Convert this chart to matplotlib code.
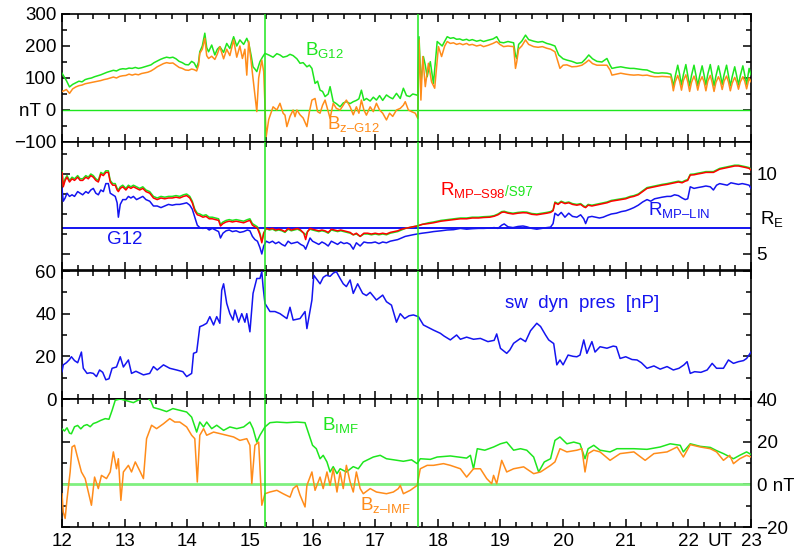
import matplotlib
matplotlib.use('Agg')
import matplotlib.pyplot as plt
from matplotlib.ticker import MultipleLocator

plt.rcParams['font.family'] = ['Liberation Sans', 'DejaVu Sans']
plt.rcParams['mathtext.fontset'] = 'custom'
plt.rcParams['mathtext.rm'] = 'Liberation Sans'
plt.rcParams['mathtext.default'] = 'regular'

GREEN = '#1ee61e'
ORANGE = '#ff8c1a'
BLUE = '#1414f0'
RED = '#ff0000'
FS = 13.5

# event times (UT hours) marked by vertical lines
event_times = [15.24, 17.68]
r_g12 = 6.63  # G12 magnetopause reference (R_E)

# panel 1: |B| and Bz at G12 (nT), (UT, value)
b_g12 = [
    (12.00, 115), (12.03, 105), (12.07, 92), (12.12, 72), (12.17, 80), (12.22, 85), (12.27, 90),
    (12.32, 88), (12.37, 95), (12.42, 98), (12.47, 100), (12.52, 104), (12.57, 107), (12.62, 110),
    (12.67, 114), (12.72, 118), (12.77, 121), (12.82, 124), (12.87, 122), (12.92, 127), (12.97, 129),
    (13.02, 128), (13.07, 131), (13.12, 130), (13.17, 133), (13.22, 130), (13.27, 132), (13.32, 135),
    (13.37, 138), (13.42, 141), (13.47, 148), (13.52, 153), (13.57, 158), (13.62, 162), (13.67, 165),
    (13.72, 163), (13.77, 165), (13.82, 160), (13.87, 152), (13.92, 148), (13.97, 142), (14.02, 141),
    (14.07, 152), (14.11, 147), (14.15, 132), (14.18, 150), (14.20, 182), (14.24, 200), (14.28, 240),
    (14.31, 195), (14.34, 182), (14.39, 203), (14.44, 172), (14.48, 190), (14.52, 198), (14.58, 180),
    (14.63, 208), (14.68, 192), (14.74, 229), (14.79, 200), (14.84, 219), (14.90, 205), (14.95, 224),
    (14.98, 210), (15.02, 170), (15.05, 135), (15.08, 128), (15.11, 120), (15.16, 151), (15.20, 165),
    (15.24, 177), (15.30, 172), (15.37, 165), (15.43, 176), (15.48, 172), (15.53, 165), (15.59, 168),
    (15.64, 174), (15.69, 170), (15.75, 160), (15.80, 146), (15.85, 148), (15.91, 135), (15.95, 140),
    (15.99, 130), (16.04, 83), (16.08, 90), (16.12, 62), (16.16, 58), (16.20, 42), (16.25, 50),
    (16.28, 73), (16.33, 26), (16.38, 20), (16.44, 10), (16.49, 22), (16.54, 26), (16.60, 20),
    (16.65, 26), (16.70, 30), (16.74, 35), (16.78, 62), (16.82, 30), (16.86, 36), (16.92, 28),
    (16.97, 40), (17.02, 31), (17.07, 45), (17.12, 30), (17.18, 47), (17.23, 40), (17.28, 35),
    (17.34, 52), (17.40, 36), (17.45, 68), (17.50, 45), (17.55, 42), (17.60, 50), (17.66, 47),
    (17.68, 45), (17.70, 229), (17.73, 83), (17.77, 167), (17.80, 140), (17.83, 104), (17.88, 151),
    (17.93, 83), (17.96, 150), (17.99, 214), (18.04, 205), (18.07, 200), (18.11, 215), (18.15, 229),
    (18.20, 224), (18.25, 226), (18.30, 221), (18.35, 222), (18.40, 218), (18.46, 221), (18.50, 217),
    (18.55, 220), (18.62, 215), (18.68, 218), (18.73, 214), (18.80, 218), (18.88, 222), (18.94, 229),
    (18.99, 212), (19.05, 210), (19.12, 214), (19.21, 210), (19.24, 170), (19.26, 161), (19.29, 205),
    (19.34, 215), (19.40, 234), (19.45, 220), (19.53, 215), (19.60, 212), (19.67, 214), (19.74, 208),
    (19.80, 205), (19.87, 200), (19.93, 172), (20.00, 160), (20.06, 156), (20.14, 152), (20.22, 146),
    (20.30, 148), (20.36, 160), (20.41, 172), (20.47, 160), (20.54, 152), (20.62, 150), (20.70, 161),
    (20.75, 140), (20.78, 130), (20.85, 133), (20.92, 135), (21.00, 132), (21.07, 130), (21.13, 130),
    (21.20, 128), (21.27, 126), (21.34, 125), (21.40, 120), (21.46, 116), (21.52, 115), (21.58, 116),
    (21.66, 115), (21.72, 112), (21.74, 95), (21.76, 73), (21.79, 105), (21.83, 140), (21.86, 112),
    (21.89, 78), (21.92, 110), (21.96, 142), (21.99, 108), (22.02, 75), (22.05, 108), (22.09, 140),
    (22.12, 110), (22.15, 76), (22.18, 106), (22.22, 138), (22.25, 110), (22.28, 78), (22.31, 112),
    (22.35, 142), (22.38, 108), (22.41, 75), (22.44, 106), (22.48, 138), (22.51, 112), (22.54, 80),
    (22.57, 110), (22.61, 140), (22.64, 108), (22.67, 75), (22.70, 104), (22.74, 135), (22.77, 108),
    (22.80, 78), (22.83, 108), (22.87, 138), (22.90, 110), (22.93, 80), (22.97, 130), (23.00, 110),
]
bz_g12 = [
    (12.00, 58), (12.03, 60), (12.07, 64), (12.12, 52), (12.17, 66), (12.22, 72), (12.27, 76),
    (12.32, 78), (12.37, 82), (12.42, 84), (12.47, 86), (12.52, 88), (12.57, 90), (12.62, 92),
    (12.67, 95), (12.72, 97), (12.77, 100), (12.82, 103), (12.87, 100), (12.92, 105), (12.97, 107),
    (13.02, 108), (13.07, 112), (13.12, 109), (13.17, 112), (13.22, 110), (13.27, 114), (13.32, 116),
    (13.37, 118), (13.42, 122), (13.47, 128), (13.52, 135), (13.57, 140), (13.62, 145), (13.67, 148),
    (13.72, 146), (13.77, 147), (13.82, 140), (13.87, 133), (13.92, 130), (13.97, 125), (14.02, 124),
    (14.07, 128), (14.11, 126), (14.15, 122), (14.18, 140), (14.20, 177), (14.24, 190), (14.28, 224),
    (14.31, 170), (14.34, 161), (14.39, 168), (14.44, 158), (14.48, 175), (14.52, 198), (14.58, 160),
    (14.63, 190), (14.68, 170), (14.74, 219), (14.79, 165), (14.84, 200), (14.88, 161), (14.92, 190),
    (14.95, 109), (14.98, 215), (15.02, 150), (15.06, 80), (15.11, -5), (15.14, 100), (15.19, 156),
    (15.22, 120), (15.26, -83), (15.30, -30), (15.37, 10), (15.43, 0), (15.48, 21), (15.53, -10),
    (15.56, -16), (15.59, -52), (15.64, -20), (15.69, 0), (15.72, -21), (15.75, 0), (15.80, -15),
    (15.85, -25), (15.91, -52), (15.95, -5), (15.99, 31), (16.04, 36), (16.08, -5), (16.12, -10),
    (16.16, 15), (16.20, 31), (16.25, -5), (16.28, -26), (16.33, 21), (16.38, 5), (16.44, 0),
    (16.49, 15), (16.54, 31), (16.60, 10), (16.65, -15), (16.70, 10), (16.74, -10), (16.78, 31),
    (16.82, 0), (16.86, -16), (16.92, 10), (16.97, -5), (17.02, 21), (17.07, 0), (17.12, -10),
    (17.18, -31), (17.23, -10), (17.28, -20), (17.34, 0), (17.40, 5), (17.45, 15), (17.48, 26),
    (17.53, 0), (17.58, -5), (17.64, -10), (17.68, -26), (17.70, 219), (17.73, 31), (17.76, 167),
    (17.80, 73), (17.85, 146), (17.90, 88), (17.95, 68), (18.01, 198), (18.06, 167), (18.11, 200),
    (18.15, 214), (18.20, 208), (18.25, 210), (18.30, 205), (18.35, 208), (18.40, 204), (18.46, 208),
    (18.50, 203), (18.55, 205), (18.62, 200), (18.68, 203), (18.73, 198), (18.80, 202), (18.88, 208),
    (18.94, 214), (18.99, 205), (19.05, 198), (19.12, 200), (19.21, 198), (19.24, 130), (19.26, 150),
    (19.29, 190), (19.34, 200), (19.40, 219), (19.45, 205), (19.53, 198), (19.60, 196), (19.67, 198),
    (19.74, 193), (19.80, 190), (19.87, 182), (19.95, 130), (20.00, 140), (20.06, 141), (20.14, 135),
    (20.22, 136), (20.30, 140), (20.36, 148), (20.41, 156), (20.47, 145), (20.54, 140), (20.62, 140),
    (20.70, 140), (20.75, 125), (20.78, 109), (20.85, 112), (20.92, 115), (21.00, 112), (21.07, 110),
    (21.13, 109), (21.20, 110), (21.27, 108), (21.34, 109), (21.40, 106), (21.46, 104), (21.52, 104),
    (21.58, 105), (21.66, 104), (21.72, 103), (21.74, 85), (21.76, 60), (21.79, 88), (21.83, 108),
    (21.86, 90), (21.89, 62), (21.92, 92), (21.96, 110), (21.99, 88), (22.02, 58), (22.05, 86),
    (22.09, 106), (22.12, 90), (22.15, 62), (22.18, 88), (22.22, 104), (22.25, 88), (22.28, 60),
    (22.31, 90), (22.35, 108), (22.38, 86), (22.41, 58), (22.44, 86), (22.48, 104), (22.51, 90),
    (22.54, 64), (22.57, 90), (22.61, 106), (22.64, 88), (22.67, 60), (22.70, 84), (22.74, 102),
    (22.77, 88), (22.80, 65), (22.83, 88), (22.87, 104), (22.90, 90), (22.93, 66), (22.97, 100),
    (23.00, 88),
]

# panel 2: magnetopause standoff (R_E): (UT, S98, S97, LIN)
r_mp = [
    (12.00, 10.1, 10.2, 9.1), (12.02, 9.2, 9.3, 8.3), (12.05, 9.6, 9.7, 8.5), (12.08, 9.8, 9.9, 8.8),
    (12.12, 9.5, 9.6, 8.6), (12.16, 9.7, 9.8, 8.7), (12.20, 9.6, 9.7, 8.6), (12.25, 9.8, 9.9, 8.9),
    (12.29, 9.6, 9.7, 8.8), (12.33, 9.6, 9.7, 8.7), (12.38, 9.8, 9.9, 8.9), (12.42, 9.7, 9.8, 8.8),
    (12.46, 9.9, 10.0, 9.0), (12.50, 9.8, 9.9, 9.1), (12.54, 9.6, 9.7, 8.8), (12.58, 9.5, 9.6, 8.7),
    (12.62, 10.0, 10.1, 9.0), (12.66, 9.9, 10.0, 8.9), (12.70, 10.1, 10.2, 9.4), (12.74, 10.1, 10.2, 9.4),
    (12.77, 9.5, 9.6, 8.8), (12.81, 9.3, 9.4, 8.7), (12.85, 9.3, 9.4, 8.6), (12.88, 9.0, 9.1, 8.2),
    (12.90, 8.9, 9.0, 7.3), (12.93, 9.1, 9.2, 8.1), (12.97, 9.2, 9.3, 8.4), (13.02, 9.0, 9.1, 8.4),
    (13.06, 9.2, 9.3, 8.6), (13.10, 9.1, 9.2, 8.5), (13.14, 9.2, 9.3, 8.6), (13.19, 9.1, 9.2, 8.4),
    (13.24, 9.0, 9.1, 8.5), (13.29, 9.1, 9.2, 8.6), (13.34, 8.9, 9.0, 8.4), (13.40, 8.8, 8.9, 8.3),
    (13.46, 8.5, 8.6, 8.0), (13.52, 8.4, 8.5, 8.0), (13.58, 8.5, 8.6, 7.9), (13.64, 8.45, 8.55, 8.0),
    (13.70, 8.5, 8.6, 8.1), (13.76, 8.5, 8.6, 8.05), (13.82, 8.55, 8.65, 8.1), (13.88, 8.5, 8.6, 8.1),
    (13.94, 8.6, 8.7, 8.15), (13.99, 8.65, 8.75, 8.2), (14.04, 8.5, 8.6, 8.05), (14.08, 8.2, 8.3, 7.8),
    (14.12, 7.7, 7.8, 7.3), (14.16, 7.45, 7.55, 6.8), (14.20, 7.4, 7.5, 6.65), (14.25, 7.3, 7.4, 6.6),
    (14.30, 7.35, 7.45, 6.65), (14.35, 7.2, 7.3, 6.5), (14.40, 7.2, 7.3, 6.6), (14.45, 7.15, 7.25, 6.5),
    (14.50, 7.1, 7.2, 6.4), (14.53, 6.75, 6.85, 6.0), (14.57, 6.9, 7.0, 6.3), (14.62, 7.0, 7.1, 6.45),
    (14.67, 7.05, 7.15, 6.5), (14.72, 7.0, 7.1, 6.4), (14.78, 7.05, 7.15, 6.45), (14.84, 7.0, 7.1, 6.35),
    (14.90, 6.95, 7.05, 6.4), (14.96, 7.05, 7.15, 6.5), (15.00, 7.1, 7.2, 6.45), (15.04, 6.8, 6.9, 6.1),
    (15.08, 6.7, 6.8, 5.9), (15.12, 6.6, 6.7, 5.8), (15.16, 6.2, 6.3, 5.4), (15.19, 5.7, 5.8, 5.0),
    (15.22, 6.3, 6.3, 5.5), (15.26, 6.6, 6.6, 5.8), (15.31, 6.55, 6.5, 5.7), (15.36, 6.6, 6.55, 5.8),
    (15.41, 6.5, 6.45, 5.65), (15.46, 6.55, 6.5, 5.75), (15.51, 6.5, 6.45, 5.6), (15.56, 6.4, 6.35, 5.5),
    (15.61, 6.6, 6.55, 5.8), (15.66, 6.5, 6.45, 5.65), (15.71, 6.55, 6.5, 5.7), (15.76, 6.6, 6.55, 5.75),
    (15.81, 6.5, 6.45, 5.6), (15.86, 6.3, 6.3, 5.5), (15.89, 5.9, 6.2, 5.3), (15.92, 6.4, 6.4, 5.6),
    (15.96, 6.6, 6.55, 6.0), (16.00, 6.55, 6.5, 5.8), (16.05, 6.5, 6.45, 5.7), (16.10, 6.45, 6.4, 5.6),
    (16.15, 6.5, 6.45, 5.75), (16.20, 6.45, 6.4, 5.65), (16.25, 6.35, 6.3, 5.5), (16.30, 6.55, 6.5, 5.8),
    (16.35, 6.5, 6.45, 5.7), (16.40, 6.45, 6.4, 5.6), (16.45, 6.5, 6.45, 5.75), (16.50, 6.45, 6.4, 5.65),
    (16.55, 6.4, 6.35, 5.7), (16.60, 6.35, 6.3, 5.6), (16.65, 6.2, 6.2, 5.3), (16.70, 6.3, 6.25, 5.7),
    (16.76, 6.1, 6.1, 5.5), (16.82, 6.3, 6.25, 5.75), (16.88, 6.3, 6.25, 5.7), (16.94, 6.25, 6.2, 5.7),
    (17.00, 6.3, 6.25, 5.75), (17.06, 6.25, 6.2, 5.65), (17.12, 6.3, 6.25, 5.75), (17.18, 6.25, 6.2, 5.7),
    (17.24, 6.35, 6.3, 5.8), (17.30, 6.4, 6.35, 5.85), (17.36, 6.45, 6.4, 5.9), (17.42, 6.55, 6.5, 6.0),
    (17.48, 6.6, 6.6, 6.1), (17.54, 6.65, 6.65, 6.15), (17.60, 6.7, 6.7, 6.2), (17.67, 6.75, 6.75, 6.25),
    (17.75, 6.85, 6.85, 6.3), (17.85, 6.9, 6.95, 6.35), (17.93, 6.95, 7.0, 6.4), (18.05, 7.05, 7.1, 6.45),
    (18.15, 7.1, 7.15, 6.5), (18.25, 7.15, 7.2, 6.52), (18.36, 7.2, 7.25, 6.6), (18.46, 7.2, 7.25, 6.55),
    (18.55, 7.25, 7.3, 6.58), (18.65, 7.25, 7.3, 6.6), (18.73, 7.28, 7.33, 6.6), (18.83, 7.3, 7.35, 6.62),
    (18.90, 7.36, 7.4, 6.65), (18.96, 7.45, 7.5, 6.6), (19.02, 7.6, 7.65, 6.8), (19.06, 7.62, 7.67, 6.88),
    (19.12, 7.55, 7.6, 6.7), (19.20, 7.5, 7.55, 6.65), (19.28, 7.55, 7.6, 6.72), (19.36, 7.58, 7.63, 6.75),
    (19.42, 7.57, 7.62, 6.7), (19.50, 7.48, 7.53, 6.6), (19.58, 7.45, 7.5, 6.55), (19.66, 7.5, 7.55, 6.6),
    (19.74, 7.55, 7.6, 6.65), (19.80, 7.6, 7.65, 6.68), (19.84, 7.7, 7.75, 6.9), (19.87, 8.2, 8.25, 7.55),
    (19.92, 8.1, 8.15, 7.4), (19.97, 8.25, 8.3, 7.6), (20.03, 8.15, 8.2, 7.3), (20.09, 8.2, 8.25, 7.55),
    (20.15, 8.1, 8.15, 7.35), (20.22, 8.05, 8.1, 7.3), (20.28, 8.1, 8.15, 7.45), (20.33, 7.95, 8.0, 7.2),
    (20.36, 7.9, 7.95, 6.9), (20.40, 8.05, 8.1, 7.3), (20.46, 8.0, 8.05, 7.35), (20.52, 8.05, 8.1, 7.3),
    (20.58, 8.1, 8.15, 7.25), (20.64, 8.15, 8.2, 7.3), (20.70, 8.2, 8.25, 7.4), (20.77, 8.3, 8.35, 7.5),
    (20.85, 8.35, 8.4, 7.55), (20.93, 8.4, 8.45, 7.65), (21.00, 8.45, 8.5, 7.7), (21.07, 8.55, 8.6, 7.8),
    (21.13, 8.6, 8.65, 7.9), (21.20, 8.7, 8.75, 8.05), (21.27, 8.9, 8.95, 8.25), (21.34, 9.1, 9.15, 8.4),
    (21.40, 9.15, 9.2, 8.3), (21.46, 9.2, 9.25, 8.45), (21.52, 9.25, 9.3, 8.5), (21.58, 9.3, 9.35, 8.55),
    (21.66, 9.35, 9.4, 8.6), (21.72, 9.4, 9.45, 8.6), (21.78, 9.45, 9.5, 8.7), (21.84, 9.5, 9.55, 8.65),
    (21.90, 9.45, 9.5, 8.5), (21.95, 9.55, 9.6, 8.4), (21.99, 9.6, 9.65, 8.45), (22.03, 9.93, 9.98, 9.2),
    (22.09, 9.95, 10.0, 9.1), (22.15, 10.0, 10.05, 9.15), (22.22, 10.05, 10.1, 9.2), (22.28, 10.1, 10.15, 9.25),
    (22.35, 10.1, 10.15, 9.2), (22.40, 10.1, 10.15, 9.0), (22.45, 10.2, 10.25, 9.3), (22.50, 10.3, 10.35, 9.4),
    (22.56, 10.35, 10.4, 9.35), (22.62, 10.4, 10.45, 9.3), (22.68, 10.45, 10.5, 9.45), (22.74, 10.5, 10.55, 9.4),
    (22.80, 10.5, 10.55, 9.35), (22.86, 10.45, 10.5, 9.4), (22.92, 10.4, 10.45, 9.35), (22.97, 10.35, 10.4, 9.3),
    (23.00, 10.25, 10.3, 9.1),
]

# panel 3: solar wind dynamic pressure (nP)
p_dyn = [
    (12.00, 12.8), (12.02, 16), (12.07, 17), (12.12, 18.5), (12.15, 19.8), (12.20, 18), (12.25, 17),
    (12.31, 22), (12.34, 14.4), (12.40, 12), (12.45, 12.3), (12.50, 12), (12.55, 10.5), (12.60, 13.6),
    (12.65, 12.5), (12.70, 9), (12.75, 9.5), (12.80, 14.4), (12.87, 15), (12.93, 19.8), (12.98, 15),
    (13.06, 18.3), (13.11, 12), (13.18, 13), (13.25, 12), (13.30, 11.3), (13.40, 12), (13.46, 15.2),
    (13.52, 13.6), (13.62, 16), (13.72, 14.4), (13.83, 13.6), (13.93, 12.8), (13.99, 10.5), (14.07, 12),
    (14.10, 21.4), (14.15, 22), (14.20, 33.9), (14.25, 34.5), (14.31, 35.5), (14.36, 38.6), (14.42, 34.7),
    (14.47, 38.6), (14.52, 35.5), (14.55, 51), (14.58, 54), (14.63, 44.8), (14.68, 40), (14.73, 37),
    (14.76, 41.7), (14.82, 36), (14.87, 40), (14.92, 36), (14.95, 40), (15.00, 31.5), (15.05, 49.5),
    (15.11, 56.5), (15.16, 56.5), (15.19, 59.7), (15.21, 52.7), (15.24, 44.8), (15.32, 41), (15.40, 41),
    (15.48, 40), (15.59, 37.7), (15.64, 43), (15.69, 37), (15.80, 37.7), (15.88, 41), (15.91, 33),
    (15.99, 46.4), (16.02, 58), (16.07, 56), (16.12, 54), (16.17, 57), (16.22, 58), (16.28, 57.5),
    (16.33, 59), (16.38, 59.7), (16.44, 56.5), (16.49, 54), (16.54, 52.7), (16.60, 55.8), (16.65, 49.5),
    (16.72, 54), (16.80, 49.5), (16.86, 48.5), (16.92, 50), (17.02, 46.4), (17.12, 48.7), (17.18, 45.6),
    (17.26, 44), (17.34, 36), (17.40, 40), (17.47, 37.7), (17.54, 39), (17.61, 39.4), (17.69, 38.6),
    (17.77, 34.7), (17.85, 33.5), (17.93, 32.3), (18.04, 30.8), (18.10, 29.5), (18.20, 27.7), (18.30, 30),
    (18.36, 28), (18.46, 29), (18.57, 28), (18.68, 28.4), (18.80, 26.9), (18.90, 27.5), (18.94, 30.5),
    (19.00, 23.75), (19.10, 21.4), (19.15, 23), (19.21, 26.1), (19.32, 28.4), (19.40, 26.9), (19.48, 32),
    (19.58, 35.5), (19.64, 34), (19.72, 30), (19.77, 27.7), (19.85, 26), (19.90, 16), (19.95, 18.3),
    (20.00, 16), (20.08, 20.6), (20.16, 20), (20.22, 19.8), (20.27, 20.6), (20.33, 27.7), (20.38, 21.4),
    (20.46, 26.9), (20.51, 22), (20.59, 24.5), (20.70, 23.8), (20.80, 24.8), (20.85, 24.5), (20.91, 19),
    (21.00, 19.8), (21.10, 18.5), (21.18, 18.3), (21.25, 17), (21.34, 14.4), (21.45, 15.5), (21.55, 14),
    (21.66, 15.2), (21.76, 13.6), (21.85, 14.4), (21.93, 16), (21.98, 17.5), (22.03, 12), (22.10, 12.8),
    (22.20, 12.5), (22.30, 13.6), (22.38, 16.7), (22.45, 14.4), (22.56, 14.4), (22.64, 18.3), (22.72, 16.7),
    (22.80, 17.5), (22.88, 18), (22.93, 19), (23.00, 22),
]

# panel 4: IMF |B| and Bz (nT)
b_imf = [
    (12.00, 26), (12.04, 25), (12.08, 26.5), (12.12, 24), (12.15, 23.7), (12.20, 27), (12.25, 27.6),
    (12.30, 26), (12.35, 27.5), (12.40, 28), (12.45, 27), (12.50, 28.5), (12.55, 29), (12.62, 30),
    (12.69, 30.8), (12.75, 30.5), (12.80, 34.7), (12.85, 39.4), (12.93, 40), (13.03, 39.2), (13.14, 38.3),
    (13.25, 40), (13.30, 41.7), (13.36, 40.8), (13.42, 39), (13.46, 36), (13.56, 35.2), (13.67, 34.1),
    (13.77, 35.5), (13.88, 34.7), (13.99, 33.9), (14.07, 31.5), (14.15, 24.5), (14.20, 29.2), (14.26, 26.9),
    (14.31, 29.2), (14.39, 26.1), (14.47, 27.7), (14.58, 25.3), (14.68, 26.9), (14.79, 26.1), (14.90, 26.9),
    (15.00, 29.2), (15.05, 26.1), (15.11, 19.8), (15.16, 23), (15.24, 26.9), (15.32, 28.9), (15.43, 29.2),
    (15.59, 28.9), (15.75, 29.2), (15.88, 28.9), (15.93, 24.5), (16.00, 18.3), (16.06, 16.7), (16.12, 12),
    (16.17, 13.6), (16.23, 10.5), (16.28, 5.8), (16.33, 8.3), (16.39, 5), (16.44, 7.3), (16.54, 5.8),
    (16.65, 8.3), (16.73, 7.3), (16.81, 10.5), (16.97, 12.8), (17.08, 13.6), (17.18, 12), (17.34, 11.3),
    (17.45, 10.8), (17.58, 11.5), (17.67, 9.7), (17.72, 12), (17.88, 11.7), (17.99, 12.8), (18.20, 13.3),
    (18.46, 12.3), (18.52, 13.6), (18.57, 7.3), (18.63, 16.7), (18.75, 16), (18.89, 17.5), (19.00, 19),
    (19.10, 19.8), (19.21, 16), (19.32, 16.7), (19.42, 16), (19.53, 12.8), (19.61, 5.8), (19.70, 10.5),
    (19.80, 12), (19.87, 20.6), (19.95, 22.2), (20.06, 19), (20.17, 19.8), (20.27, 19), (20.35, 12),
    (20.40, 16.7), (20.49, 18.3), (20.59, 16), (20.75, 15.2), (20.86, 16.7), (21.13, 16.7), (21.34, 16.4),
    (21.55, 17.5), (21.71, 19), (21.87, 18.3), (21.92, 15.2), (22.03, 19), (22.19, 17.8), (22.35, 17.3),
    (22.45, 15.8), (22.56, 14.4), (22.72, 12), (22.82, 13.6), (22.93, 15.2), (23.00, 14),
]
bz_imf = [
    (12.00, -4.4), (12.02, -13), (12.05, -16), (12.08, -7), (12.13, 5.8), (12.16, 17.5), (12.20, 18.3),
    (12.24, 13.6), (12.31, 5.8), (12.37, 2.7), (12.42, -3.6), (12.47, -9.8), (12.52, 3.4), (12.58, -2),
    (12.63, 4.2), (12.71, 2.7), (12.77, 5.8), (12.82, 15.2), (12.87, 7.3), (12.90, 12), (12.94, -7.5),
    (12.98, 5.8), (13.06, 8.9), (13.11, 5.8), (13.17, 10.5), (13.25, 5.8), (13.30, 2.7), (13.35, 21.4),
    (13.43, 27.7), (13.51, 26.1), (13.62, 28.4), (13.72, 30.8), (13.80, 29.2), (13.88, 29.2), (13.99, 26.9),
    (14.07, 23), (14.12, 21.4), (14.16, 1.1), (14.20, 23), (14.26, 26.1), (14.31, 23), (14.42, 24.5),
    (14.52, 23.8), (14.63, 23), (14.74, 22.2), (14.84, 20.6), (14.95, 21.4), (15.00, 18.3), (15.03, 0.3),
    (15.08, 18.3), (15.14, 19.8), (15.19, -9.8), (15.24, -4.4), (15.32, -3.6), (15.43, -2.8), (15.53, -4.4),
    (15.64, -6), (15.69, -2), (15.75, -0.5), (15.80, -5), (15.88, -10.6), (15.91, -0.5), (15.99, 5.8),
    (16.04, -2.8), (16.12, 3.4), (16.17, -2), (16.23, 5.8), (16.28, -0.5), (16.33, 7.3), (16.39, -3.6),
    (16.44, 5.8), (16.49, -2), (16.54, 8.9), (16.60, 1.1), (16.65, -3.6), (16.70, 5.8), (16.76, -2),
    (16.81, -4.4), (16.92, -2), (17.02, -3.6), (17.18, -4.4), (17.29, -3.6), (17.37, -2), (17.40, -0.5),
    (17.45, -4.4), (17.56, -2.8), (17.67, -0.5), (17.72, 7.3), (17.83, 8.9), (17.93, 8.9), (18.09, 9.7),
    (18.20, 8.9), (18.36, 7.3), (18.46, 3.4), (18.57, 7.3), (18.68, 7.3), (18.78, 2.7), (18.86, 0.3),
    (18.89, 4.2), (18.94, 0.3), (19.02, 11.25), (19.10, 5.8), (19.21, 7.3), (19.37, 8.2), (19.53, 5),
    (19.64, 5.8), (19.80, 8.9), (19.87, 10.5), (19.95, 16.7), (20.06, 15.2), (20.22, 16), (20.30, 16.7),
    (20.35, 5.8), (20.40, 14.4), (20.49, 16), (20.59, 15.2), (20.75, 11.25), (20.91, 14.4), (21.13, 15.2),
    (21.31, 11.25), (21.45, 14.4), (21.66, 15.2), (21.82, 17.5), (21.92, 12.8), (22.03, 18.6), (22.19, 17.5),
    (22.35, 16.7), (22.45, 15.2), (22.56, 11.25), (22.66, 13.6), (22.72, 9.7), (22.82, 12), (22.93, 13.6),
    (23.00, 12.8),
]

hours = list(range(12, 24))
hour_labels = [str(h) for h in hours]


def cols(rows):
    return [list(c) for c in zip(*rows)]


def sub_label(base, sub):
    # IDL-style label: base letter with a subscript that keeps its dash short (en dash, no math spacing)
    return '$' + base + '_{\\text{' + sub.replace('-', '\u2013') + '}}$'


fig = plt.figure(figsize=(7.94, 5.52), dpi=100)
W, H = 794.0, 552.0
x0, x1 = 62, 751
tops = [14, 142, 271, 399]
axes = []
for top in tops:
    ax = fig.add_axes([x0 / W, 1 - (top + 128) / H, (x1 - x0) / W, 128 / H])
    axes.append(ax)
ax1, ax2, ax3, ax4 = axes

for ax in axes:
    ax.set_xlim(12, 23)
    ax.xaxis.set_major_locator(MultipleLocator(1))
    ax.xaxis.set_minor_locator(MultipleLocator(0.25))
    ax.tick_params(which='both', direction='in', top=True, bottom=True, left=True, right=True,
                   labelsize=FS, width=1.1, colors='black', pad=4)
    ax.tick_params(which='major', length=6)
    ax.tick_params(which='minor', length=3.5)
    ax.tick_params(axis='x', labelbottom=False)
    for s in ax.spines.values():
        s.set_linewidth(1.2)
    for et in event_times:
        ax.axvline(et, color=GREEN, lw=1.1, zorder=5)

# panel 1
t, v = cols(b_g12)
ax1.plot(t, v, color=GREEN, lw=1.1, zorder=3)
t, v = cols(bz_g12)
ax1.plot(t, v, color=ORANGE, lw=1.1, zorder=4)
ax1.axhline(0, color=GREEN, lw=1.0, zorder=2)
ax1.set_ylim(-100, 300)
ax1.set_yticks([-100, 0, 100, 200, 300])
ax1.set_yticklabels(['\u2212100', 'nT 0', '100', '200', '300'])
ax1.yaxis.set_minor_locator(MultipleLocator(50))
ax1.text(15.88, 187, sub_label('B', 'G12'), color=GREEN, fontsize=FS, va='center', ha='left')
ax1.text(16.23, -45, sub_label('B', 'z-G12'), color=ORANGE, fontsize=FS, va='center', ha='left')

# panel 2
t, rs98, rs97, rlin = cols(r_mp)
ax2.axhline(r_g12, color=BLUE, lw=1.4, zorder=2)
ax2.plot(t, rs97, color=GREEN, lw=1.1, zorder=3)
ax2.plot(t, rs98, color=RED, lw=1.1, zorder=4)
ax2.plot(t, rlin, color=BLUE, lw=1.1, zorder=3)
ax2.set_ylim(4, 12)
ax2.set_yticks([5, 10])
ax2.yaxis.set_minor_locator(MultipleLocator(1.25))
ax2.tick_params(axis='y', labelleft=False, labelright=True)
rt = ax2.text(18.03, 9.0, sub_label('R', 'MP-S98'), color=RED, fontsize=FS, va='center', ha='left')
ax2.annotate('/S97', xy=(1, 0), xycoords=rt, color=GREEN, fontsize=FS * 0.72,
             va='bottom', ha='left', xytext=(0, 1.0), textcoords='offset points')
ax2.text(21.36, 7.75, sub_label('R', 'MP-LIN'), color=BLUE, fontsize=FS, va='center', ha='left')
ax2.text(13.0, 5.93, 'G12', color=BLUE, fontsize=FS, va='center', ha='center')
ax2.text(1.013, 0.40, r'$R_E$', transform=ax2.transAxes, fontsize=FS, va='center', ha='left')

# panel 3
t, v = cols(p_dyn)
ax3.plot(t, v, color=BLUE, lw=1.1, zorder=3)
ax3.set_ylim(0, 60)
ax3.set_yticks([0, 20, 40, 60])
ax3.yaxis.set_minor_locator(MultipleLocator(10))
ax3.text(20.3, 45, 'sw  dyn  pres  [nP]', color=BLUE, fontsize=FS, va='center', ha='center')

# panel 4
ax4.axhline(0, color='#80f080', lw=2.0, zorder=2)
t, v = cols(b_imf)
ax4.plot(t, v, color=GREEN, lw=1.1, zorder=3)
t, v = cols(bz_imf)
ax4.plot(t, v, color=ORANGE, lw=1.1, zorder=4)
ax4.set_ylim(-20, 40)
ax4.set_yticks([-20, 0, 20, 40])
ax4.set_yticklabels(['\u221220', '0 nT', '20', '40'])
ax4.yaxis.set_minor_locator(MultipleLocator(10))
ax4.tick_params(axis='y', labelleft=False, labelright=True)
ax4.tick_params(axis='x', labelbottom=True)
ax4.set_xticks(hours)
ax4.set_xticklabels(hour_labels)
ax4.text(16.15, 27.8, sub_label('B', 'IMF'), color=GREEN, fontsize=FS, va='center', ha='left')
ax4.text(16.76, -9.5, sub_label('B', 'z-IMF'), color=ORANGE, fontsize=FS, va='center', ha='left')
ax4.annotate('UT', xy=(22.5, 0), xycoords=('data', 'axes fraction'), xytext=(0, -4),
             textcoords='offset points', fontsize=FS, va='top', ha='center')

fig.savefig('out.png', dpi=100)
